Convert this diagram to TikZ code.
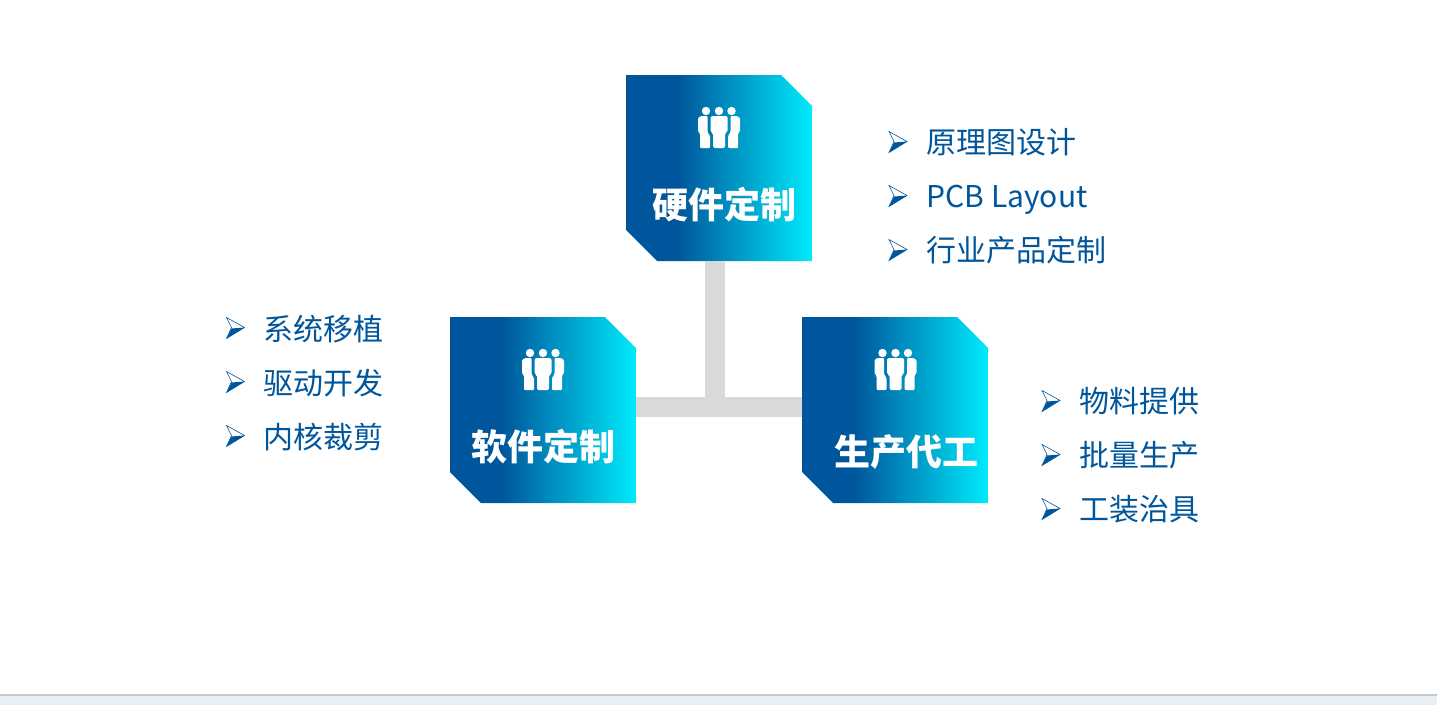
\documentclass[tikz,border=0pt]{standalone}
\usepackage{fontspec}
\setmainfont{Noto Sans CJK SC}
\definecolor{deepblue}{HTML}{00569C}
\definecolor{cyanend}{HTML}{00EAFA}
\definecolor{txtblue}{HTML}{00569C}
\definecolor{barblue}{HTML}{E9EEF3}
\definecolor{bargray}{HTML}{C4C9CD}
\definecolor{linkgray}{HTML}{D9D9D9}
\pgfdeclarehorizontalshading{boxgrad}{100bp}{color(0bp)=(deepblue);color(39bp)=(deepblue);color(75bp)=(cyanend);color(100bp)=(cyanend)}
\tikzset{
  x=1pt,y=-1pt,
  card/.style={rectangle,minimum width=186pt,minimum height=186pt,inner sep=0pt,
    path picture={
      \path[shading=boxgrad,shading angle=0]
        ([xshift=0pt]path picture bounding box.north west)
        -- ([xshift=-31pt]path picture bounding box.north east)
        -- ([yshift=-31pt]path picture bounding box.north east)
        -- (path picture bounding box.south east)
        -- ([xshift=31pt]path picture bounding box.south west)
        -- ([yshift=31pt]path picture bounding box.south west)
        -- cycle;
    }},
  cardtitle/.style={anchor=base,inner sep=0pt,text=white,font=\fontsize{36}{40}\selectfont\bfseries},
  item/.style={anchor=base west,inner sep=0pt,text=txtblue,font=\fontsize{30}{36}\selectfont},
  link/.style={draw=linkgray,line width=20pt},
  bullet/.pic={
    \draw[txtblue,line width=0.6pt,fill=white,line join=miter] (-9,-10) -- (9,0) -- (-9,11) -- (-4,0) -- cycle;
    \fill[txtblue] (-9,11) -- (9,0) -- (-4,1) -- cycle;
  },
  team/.pic={
    \fill[white] (-13,-17) circle (4.2) (0,-17) circle (4.2) (12.5,-17) circle (4.2);
    \fill[white,rounded corners=1.5pt] (-8.5,-12) -- (8.5,-12) -- (8.5,4) -- (6,5) -- (6,20) -- (-6,20) -- (-6,5) -- (-8.5,4) -- cycle;
    \fill[white,rounded corners=1pt] (-11.5,-12) -- (-18,-12) -- (-21,-10) -- (-21,3) -- (-19,6) -- (-19,20) -- (-9,20) -- (-9,8) -- (-11.5,4) -- cycle;
    \fill[white,rounded corners=1pt] (11.5,-12) -- (18,-12) -- (21,-10) -- (21,3) -- (19,6) -- (19,20) -- (9,20) -- (9,8) -- (11.5,4) -- cycle;
  }
}
\begin{document}
\begin{tikzpicture}
\useasboundingbox (0,0) rectangle (1437,705);
\fill[white] (0,0) rectangle (1437,705);
\fill[barblue] (0,695) rectangle (1437,705);
\fill[bargray] (0,693.5) rectangle (1437,695.5);

\coordinate (hub) at (715,407);
\node[card] (hw) at (719,168) {};
\node[card] (sw) at (543,410) {};
\node[card] (mf) at (895,410) {};
\draw[link] (hw.south -| hub) -- (hub);
\draw[link] (sw.east |- hub) -- (mf.west |- hub);

\pic at (719,128) {team};
\pic at (543,370) {team};
\pic at (895.5,370) {team};
\node[cardtitle] (hwt) at (724.5,218) {硬件定制};
\node[cardtitle] (swt) at (543.5,460) {软件定制};
\node[cardtitle] (mft) at (906,465) {生产代工};

\pic at (898,141.5) {bullet};
\pic at (898,195.5) {bullet};
\pic at (898,249.5) {bullet};
\node[item] (a1) at (926,153.5) {原理图设计};
\node[item] (a2) at (926.5,207) {PCB Layout};
\node[item] (a3) at (926,261.5) {行业产品定制};

\pic at (235.5,327.5) {bullet};
\pic at (235.5,381.5) {bullet};
\pic at (235.5,435.5) {bullet};
\node[item] (b1) at (263.5,340) {系统移植};
\node[item] (b2) at (263.5,394) {驱动开发};
\node[item] (b3) at (263.5,448) {内核裁剪};

\pic at (1051,400.5) {bullet};
\pic at (1051,454.5) {bullet};
\pic at (1051,508.5) {bullet};
\node[item] (c1) at (1079.5,412) {物料提供};
\node[item] (c2) at (1079.5,466) {批量生产};
\node[item] (c3) at (1079.5,520) {工装治具};
\end{tikzpicture}
\end{document}
